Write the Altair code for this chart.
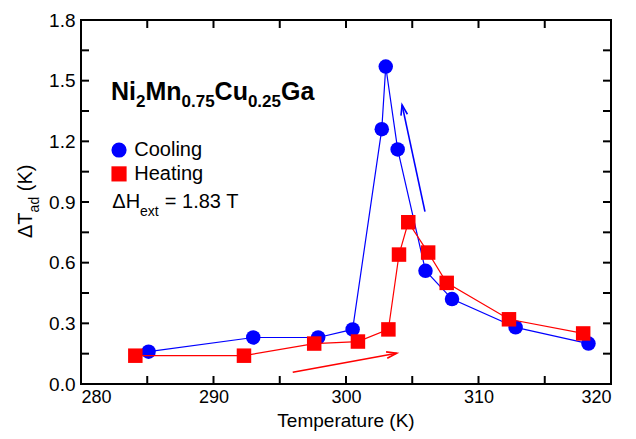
import math
import altair as alt
import pandas as pd

# ---------------- data ----------------
cool_T = [285.1, 293.0, 297.9, 300.5, 302.7, 303.0, 303.9, 306.0, 308.0, 312.8, 318.3]
cool_dT = [0.16, 0.23, 0.23, 0.27, 1.26, 1.57, 1.16, 0.56, 0.42, 0.28, 0.20]
heat_T = [284.1, 292.3, 297.6, 300.9, 303.2, 304.0, 304.7, 306.2, 307.6, 312.3, 317.9]
heat_dT = [0.14, 0.14, 0.20, 0.21, 0.27, 0.64, 0.80, 0.65, 0.50, 0.32, 0.25]

series_names = ["Cooling", "Heating"]
series_colors = ["#0000ff", "#ff0000"]
series_shapes = ["circle", "square"]

x_label_values = [280, 290, 300, 310, 320]
x_tick_values = [280, 285, 290, 295, 300, 305, 310, 315, 320]
y_label_values = [0.0, 0.3, 0.6, 0.9, 1.2, 1.5, 1.8]
y_tick_values = [0.0, 0.15, 0.3, 0.45, 0.6, 0.75, 0.9, 1.05, 1.2, 1.35, 1.5, 1.65, 1.8]

# direction arrows (data coordinates)
arrow_series = ["Cooling", "Heating"]
arrow_T0 = [305.96, 295.98]
arrow_v0 = [0.852, 0.058]
arrow_T1 = [304.23, 303.83]
arrow_v1 = [1.380, 0.152]

# legend / annotation anchors (data coordinates)
legend_T = [282.87, 282.87]
legend_v = [1.157, 1.039]
legend_text_T = 284.02
legend_text_v = [1.129, 1.009]
formula_T, formula_v = 282.26, 1.405
field_T, field_v = 282.36, 0.869

# ---------------- layout ----------------
W, H = 530, 364
XD = [280, 320]
YD = [0.0, 1.8]
FONT = "Liberation Sans"
TICK = 8

BOLD_W = {"N": .722, "i": .278, "M": .833, "n": .611, "C": .722, "u": .611,
          "G": .778, "a": .556, "0": .556, "2": .556, "5": .556, "7": .556, ".": .278}


def bold_width(s, size):
    return sum(BOLD_W[c] for c in s) * size


xs = alt.Scale(domain=XD, nice=False, zero=False)
ys = alt.Scale(domain=YD, nice=False, zero=False)
x_axis = alt.Axis(values=x_label_values, title=None, format="d", labelFontSize=18,
                  labelPadding=4, grid=False, ticks=False, domain=False)
y_axis = alt.Axis(values=y_label_values, title=None, format=".1f", labelFontSize=19,
                  labelPadding=6, grid=False, ticks=False, domain=False)


def X(field):
    return alt.X(field, type="quantitative", scale=xs, axis=x_axis)


def Y(field):
    return alt.Y(field, type="quantitative", scale=ys, axis=y_axis)


color = alt.Color("series:N", scale=alt.Scale(domain=series_names, range=series_colors), legend=None)
shape = alt.Shape("series:N", scale=alt.Scale(domain=series_names, range=series_shapes), legend=None)

df = pd.concat([
    pd.DataFrame({"T": cool_T, "dT": cool_dT, "series": "Cooling"}),
    pd.DataFrame({"T": heat_T, "dT": heat_dT, "series": "Heating"}),
])
cool_df = df[df.series == "Cooling"]
heat_df = df[df.series == "Heating"]


def series_layers(d):
    base = alt.Chart(d)
    line = base.mark_line(strokeWidth=1.2).encode(x=X("T"), y=Y("dT"), color=color, order="T:Q")
    pts = base.mark_point(filled=True, opacity=1, size=210).encode(
        x=X("T"), y=Y("dT"), color=color, shape=shape)
    return [line, pts]


# arrows
adf = pd.DataFrame({"series": arrow_series, "T0": arrow_T0, "v0": arrow_v0,
                    "T1": arrow_T1, "v1": arrow_v1})
angs = []
for t0, v0, t1, v1 in zip(arrow_T0, arrow_v0, arrow_T1, arrow_v1):
    dxp = (t1 - t0) * W / (XD[1] - XD[0])
    dyp = -(v1 - v0) * H / (YD[1] - YD[0])
    angs.append(math.degrees(math.atan2(dxp, -dyp)) % 360)
adf["ang"] = angs

shafts = alt.Chart(adf).mark_rule(strokeWidth=1.6).encode(
    x=X("T0"), y=Y("v0"), x2="T1", y2="v1", color=color)
heads = alt.Chart(adf).mark_point(shape="M -0.32 1 L 0 0 L 0.32 1", filled=False,
                                   size=420, strokeWidth=1.6, opacity=1).encode(
    x=X("T1"), y=Y("v1"), color=color, angle=alt.Angle("ang:Q", scale=None))

# legend symbols + labels
ldf = pd.DataFrame({"series": series_names, "T": legend_T, "v": legend_v})
leg_sym = alt.Chart(ldf).mark_point(filled=True, opacity=1, size=230).encode(
    x=X("T"), y=Y("v"), color=color, shape=shape)
ltdf = pd.DataFrame({"label": series_names, "T": [legend_text_T] * 2, "v": legend_text_v})
leg_txt = alt.Chart(ltdf).mark_text(align="left", baseline="alphabetic", fontSize=20,
                                    font=FONT, color="black").encode(
    x=X("T"), y=Y("v"), text="label:N")

# formula Ni2Mn0.75Cu0.25Ga
F_MAIN, F_SUB = 25, 17
pieces = [("Ni", False), ("2", True), ("Mn", False), ("0.75", True),
          ("Cu", False), ("0.25", True), ("Ga", False)]
formula_layers = []
off = 0.0
for txt, sub in pieces:
    fs = F_SUB if sub else F_MAIN
    fd = pd.DataFrame({"t": [txt], "T": [formula_T], "v": [formula_v]})
    formula_layers.append(
        alt.Chart(fd).mark_text(align="left", baseline="alphabetic", fontSize=fs,
                                fontWeight="bold", font=FONT, color="black",
                                dx=off, dy=7 if sub else 0).encode(
            x=X("T"), y=Y("v"), text="t:N"))
    off += bold_width(txt, fs)

# ΔH_ext = 1.83 T
fld = pd.DataFrame({"T": [field_T], "v": [field_v]})
field_layers = [
    alt.Chart(fld).mark_text(align="left", baseline="alphabetic", fontSize=20, font=FONT,
                             color="black", text="\u0394H").encode(x=X("T"), y=Y("v")),
    alt.Chart(fld).mark_text(align="left", baseline="alphabetic", fontSize=14, font=FONT,
                             color="black", text="ext", dx=27.8, dy=8).encode(x=X("T"), y=Y("v")),
    alt.Chart(fld).mark_text(align="left", baseline="alphabetic", fontSize=20, font=FONT,
                             color="black", text="= 1.83 T", dx=52.5).encode(x=X("T"), y=Y("v")),
]

# inward ticks on all four sides
xt = pd.DataFrame({"T": x_tick_values})
yt = pd.DataFrame({"v": y_tick_values})
tick_layers = [
    alt.Chart(xt).mark_rule(strokeWidth=2, color="black").encode(
        x=X("T"), y=alt.value(H), y2=alt.value(H - TICK)),
    alt.Chart(xt).mark_rule(strokeWidth=2, color="black").encode(
        x=X("T"), y=alt.value(0), y2=alt.value(TICK)),
    alt.Chart(yt).mark_rule(strokeWidth=2, color="black").encode(
        y=Y("v"), x=alt.value(0), x2=alt.value(TICK)),
    alt.Chart(yt).mark_rule(strokeWidth=2, color="black").encode(
        y=Y("v"), x=alt.value(W), x2=alt.value(W - TICK)),
]

# axis titles (with subscript)
td = pd.DataFrame({"a": [0]})
ytitle_start = H / 2 + 36
title_layers = [
    alt.Chart(td).mark_text(align="center", baseline="alphabetic", fontSize=19, font=FONT,
                            color="black", text="Temperature (K)").encode(
        x=alt.value(W / 2), y=alt.value(H + 43)),
    alt.Chart(td).mark_text(align="left", baseline="alphabetic", fontSize=20, font=FONT,
                            color="black", angle=270, text="\u0394T").encode(
        x=alt.value(-49), y=alt.value(ytitle_start)),
    alt.Chart(td).mark_text(align="left", baseline="alphabetic", fontSize=14, font=FONT,
                            color="black", angle=270, text="ad", dx=25.6, dy=7).encode(
        x=alt.value(-49), y=alt.value(ytitle_start)),
    alt.Chart(td).mark_text(align="left", baseline="alphabetic", fontSize=20, font=FONT,
                            color="black", angle=270, text="(K)", dx=25.6 + 15.6 + 5.6).encode(
        x=alt.value(-49), y=alt.value(ytitle_start)),
]

layers = (tick_layers + series_layers(cool_df) + series_layers(heat_df)
          + [shafts, heads, leg_sym, leg_txt] + formula_layers + field_layers + title_layers)

chart = alt.layer(*layers).properties(
    width=W, height=H,
    autosize=alt.AutoSizeParams(type="none"),
    padding={"left": 73, "top": 12, "right": 17, "bottom": 47},
).configure_view(stroke="black", strokeWidth=2).configure_axis(
    labelFont=FONT, labelColor="black"
)

chart.save("out.html", embed_options={"renderer": "svg", "actions": False})
